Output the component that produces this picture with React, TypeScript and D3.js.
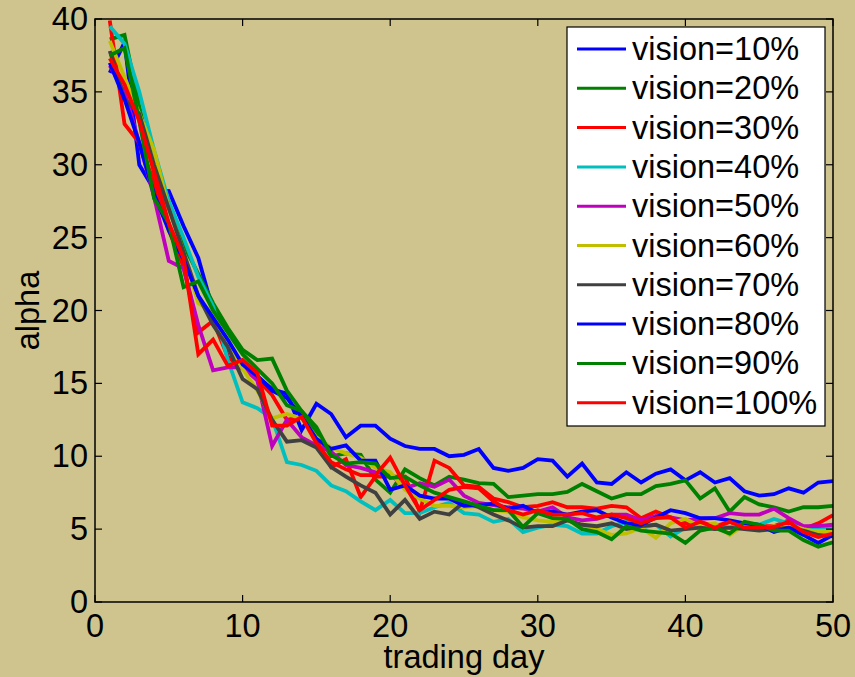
import React from "react";
import * as d3 from "d3";

const tradingDays = d3.range(1, 51);

const vision10 = [36.3, 38.4, 30.0, 28.3, 28.2, 25.8, 23.6, 20.0, 16.8, 16.3, 15.5, 14.6, 14.3, 11.8, 13.6, 12.9, 11.3, 12.1, 12.1, 11.2, 10.7, 10.5, 10.5, 10.0, 10.1, 10.5, 9.2, 9.0, 9.2, 9.8, 9.7, 8.6, 9.5, 8.2, 8.1, 8.9, 8.2, 8.8, 9.1, 8.35, 8.9, 8.2, 8.5, 7.6, 7.3, 7.4, 7.8, 7.5, 8.2, 8.3];
const vision20 = [38.6, 38.9, 34.0, 29.5, 27.0, 24.5, 22.5, 20.5, 18.8, 17.3, 16.6, 16.7, 14.5, 13.1, 11.6, 10.0, 10.2, 10.1, 8.4, 7.5, 9.1, 8.5, 8.0, 8.6, 8.4, 8.15, 8.1, 7.2, 7.3, 7.4, 7.4, 7.55, 8.1, 7.6, 7.1, 7.4, 7.4, 7.95, 8.1, 8.35, 7.1, 7.8, 6.2, 7.2, 6.7, 6.5, 6.2, 6.5, 6.5, 6.6];
const vision30 = [39.9, 32.8, 31.5, 28.8, 25.5, 23.0, 18.5, 19.3, 16.8, 16.0, 15.3, 14.2, 12.5, 12.7, 11.1, 9.25, 9.8, 7.2, 8.6, 8.6, 8.6, 6.2, 9.7, 9.2, 8.0, 7.9, 7.1, 6.85, 6.5, 6.6, 6.85, 6.5, 6.5, 6.4, 6.6, 6.5, 5.75, 6.2, 5.8, 5.4, 5.5, 5.2, 5.5, 5.1, 5.2, 5.2, 5.6, 5.0, 5.4, 5.96];
const vision40 = [39.5, 38.3, 35.0, 31.0, 27.5, 25.0, 22.3, 20.3, 16.6, 13.7, 13.3, 12.6, 9.6, 9.4, 9.0, 8.0, 7.6, 6.9, 6.3, 7.0, 6.1, 6.1, 6.5, 6.8, 6.1, 6.0, 5.5, 5.7, 4.8, 5.1, 5.3, 5.2, 4.7, 4.7, 5.2, 5.5, 5.1, 5.3, 4.5, 5.1, 5.1, 5.3, 5.1, 5.4, 5.3, 5.7, 5.4, 5.1, 5.1, 5.1];
const vision50 = [36.8, 35.0, 31.5, 27.8, 23.4, 22.9, 19.0, 15.9, 16.1, 16.1, 15.2, 10.7, 12.5, 11.3, 10.75, 10.3, 9.4, 9.2, 8.9, 8.8, 7.8, 8.15, 7.9, 8.4, 7.3, 6.8, 6.65, 6.5, 6.4, 6.2, 6.5, 5.8, 5.6, 5.7, 6.0, 6.0, 5.6, 5.9, 5.8, 5.6, 5.7, 5.75, 6.1, 6.0, 6.0, 6.4, 5.75, 5.2, 5.2, 5.3];
const vision60 = [38.5, 36.0, 33.5, 31.0, 27.0, 24.0, 20.5, 19.9, 17.5, 16.0, 14.5, 12.6, 12.9, 12.6, 11.3, 10.6, 10.2, 9.9, 9.2, 8.9, 7.7, 7.1, 6.6, 6.6, 6.5, 6.6, 6.3, 6.2, 5.8, 5.6, 5.5, 5.6, 5.3, 5.0, 4.6, 4.7, 5.1, 4.4, 5.4, 5.7, 5.2, 5.4, 4.6, 5.3, 5.0, 5.2, 5.3, 5.0, 4.8, 4.9];
const vision70 = [37.8, 34.5, 33.5, 30.0, 27.0, 24.0, 21.0, 19.0, 17.5, 15.3, 14.6, 12.5, 11.0, 11.1, 10.6, 9.25, 8.6, 8.0, 7.5, 6.0, 7.0, 5.7, 6.2, 6.0, 6.85, 6.5, 6.0, 5.6, 5.1, 5.2, 5.2, 5.6, 5.3, 5.2, 5.4, 5.0, 5.2, 5.3, 4.9, 5.0, 5.1, 5.0, 5.1, 5.0, 4.9, 5.0, 5.1, 4.9, 4.6, 4.5];
const vision80 = [37.0, 34.5, 31.5, 28.0, 25.5, 23.5, 21.0, 19.5, 18.0, 16.3, 15.5, 14.5, 14.0, 12.7, 11.2, 10.5, 10.75, 9.7, 9.7, 7.7, 8.0, 7.3, 7.1, 7.1, 6.6, 6.65, 6.75, 6.4, 6.6, 6.1, 6.2, 6.0, 6.2, 6.3, 5.8, 5.4, 5.3, 5.8, 6.3, 6.1, 5.75, 5.75, 5.6, 5.4, 5.3, 4.8, 5.1, 4.6, 4.05, 4.6];
const vision90 = [37.5, 38.0, 33.0, 27.7, 26.0, 21.6, 22.0, 20.0, 18.5, 17.0, 16.0, 15.0, 13.5, 13.1, 12.0, 10.1, 9.5, 9.6, 9.5, 8.5, 8.6, 8.0, 7.5, 7.2, 6.9, 6.6, 6.3, 6.3, 5.15, 6.1, 5.75, 5.7, 5.0, 4.8, 4.3, 5.2, 4.9, 4.8, 4.7, 4.05, 4.9, 5.1, 4.7, 5.5, 5.3, 4.9, 4.9, 4.25, 3.8, 4.1];
const vision100 = [37.3, 35.5, 33.0, 29.5, 26.0, 23.6, 17.0, 18.0, 16.2, 16.6, 15.7, 12.1, 12.1, 12.7, 10.9, 9.6, 9.1, 8.7, 8.7, 9.9, 8.0, 6.3, 7.0, 7.7, 7.9, 7.8, 6.9, 6.3, 6.0, 6.3, 6.0, 6.0, 6.1, 5.8, 6.0, 5.75, 5.4, 5.75, 5.8, 5.1, 5.5, 5.1, 5.5, 5.1, 5.1, 5.15, 5.5, 4.8, 4.45, 4.7];

const seriesLabels = ["vision=10%", "vision=20%", "vision=30%", "vision=40%", "vision=50%", "vision=60%", "vision=70%", "vision=80%", "vision=90%", "vision=100%"];
const seriesValues = [vision10, vision20, vision30, vision40, vision50, vision60, vision70, vision80, vision90, vision100];
const seriesColors = ["#0000ff", "#008000", "#ff0000", "#00bfbf", "#bf00bf", "#bfbf00", "#404040", "#0000ff", "#008000", "#ff0000"];

const xTicks = [0, 10, 20, 30, 40, 50];
const yTicks = [0, 5, 10, 15, 20, 25, 30, 35, 40];

const W = 855;
const H = 677;
const left = 95;
const right = 833;
const top = 19;
const bottom = 602;
const FONT = "'Liberation Sans', Arial, Helvetica, sans-serif";
const FS = 32.5;

export default function App() {
  const x = d3.scaleLinear().domain([0, 50]).range([left, right]);
  const y = d3.scaleLinear().domain([0, 40]).range([bottom, top]);
  const line = d3
    .line<number>()
    .x((_, i) => x(tradingDays[i]))
    .y((d) => y(d));

  const tickLen = 7;
  const legX = 567;
  const legY = 27;
  const legW = 258;
  const legH = 399;
  const rowH = 39.3;

  return (
    <svg
      width={W}
      height={H}
      style={{ position: "absolute", left: 0, top: 0, display: "block" }}
      fontFamily={FONT}
    >
      <rect x={0} y={0} width={W} height={H} fill="#cfc48d" />
      <defs>
        <clipPath id="plotclip">
          <rect x={left} y={top} width={right - left} height={bottom - top} />
        </clipPath>
      </defs>
      <g clipPath="url(#plotclip)">
        {seriesValues.map((vals, i) => (
          <path
            key={i}
            d={line(vals) || ""}
            fill="none"
            stroke={seriesColors[i]}
            strokeWidth={3.8}
            strokeLinejoin="miter"
          />
        ))}
      </g>
      <rect x={left} y={top} width={right - left} height={bottom - top} fill="none" stroke="#000" strokeWidth={1.5} />
      {xTicks.map((t) => (
        <g key={"x" + t}>
          <line x1={x(t)} x2={x(t)} y1={bottom} y2={bottom - tickLen} stroke="#000" strokeWidth={1.2} />
          <line x1={x(t)} x2={x(t)} y1={top} y2={top + tickLen} stroke="#000" strokeWidth={1.2} />
          <text x={x(t)} y={bottom + 24} fontSize={FS} textAnchor="middle" dominantBaseline="central" fill="#000">
            {t}
          </text>
        </g>
      ))}
      {yTicks.map((t) => (
        <g key={"y" + t}>
          <line x1={left} x2={left + tickLen} y1={y(t)} y2={y(t)} stroke="#000" strokeWidth={1.2} />
          <line x1={right} x2={right - tickLen} y1={y(t)} y2={y(t)} stroke="#000" strokeWidth={1.2} />
          <text x={left - 7} y={y(t)} fontSize={FS} textAnchor="end" dominantBaseline="central" fill="#000">
            {t}
          </text>
        </g>
      ))}
      <text x={(left + right) / 2} y={657} fontSize={FS} textAnchor="middle" dominantBaseline="central" fill="#000">
        trading day
      </text>
      <text
        x={0}
        y={0}
        transform={`translate(${28},${(top + bottom) / 2}) rotate(-90)`}
        fontSize={FS}
        textAnchor="middle"
        dominantBaseline="central"
        fill="#000"
      >
        alpha
      </text>
      <rect x={legX} y={legY} width={legW} height={legH} fill="#fff" stroke="#000" strokeWidth={1.2} />
      {seriesLabels.map((lab, i) => {
        const cy = legY + 22 + i * rowH;
        return (
          <g key={lab}>
            <line x1={legX + 10} x2={legX + 59} y1={cy} y2={cy} stroke={seriesColors[i]} strokeWidth={3} />
            <text x={legX + 65} y={cy} fontSize={FS} dominantBaseline="central" fill="#000">
              {lab}
            </text>
          </g>
        );
      })}
    </svg>
  );
}
